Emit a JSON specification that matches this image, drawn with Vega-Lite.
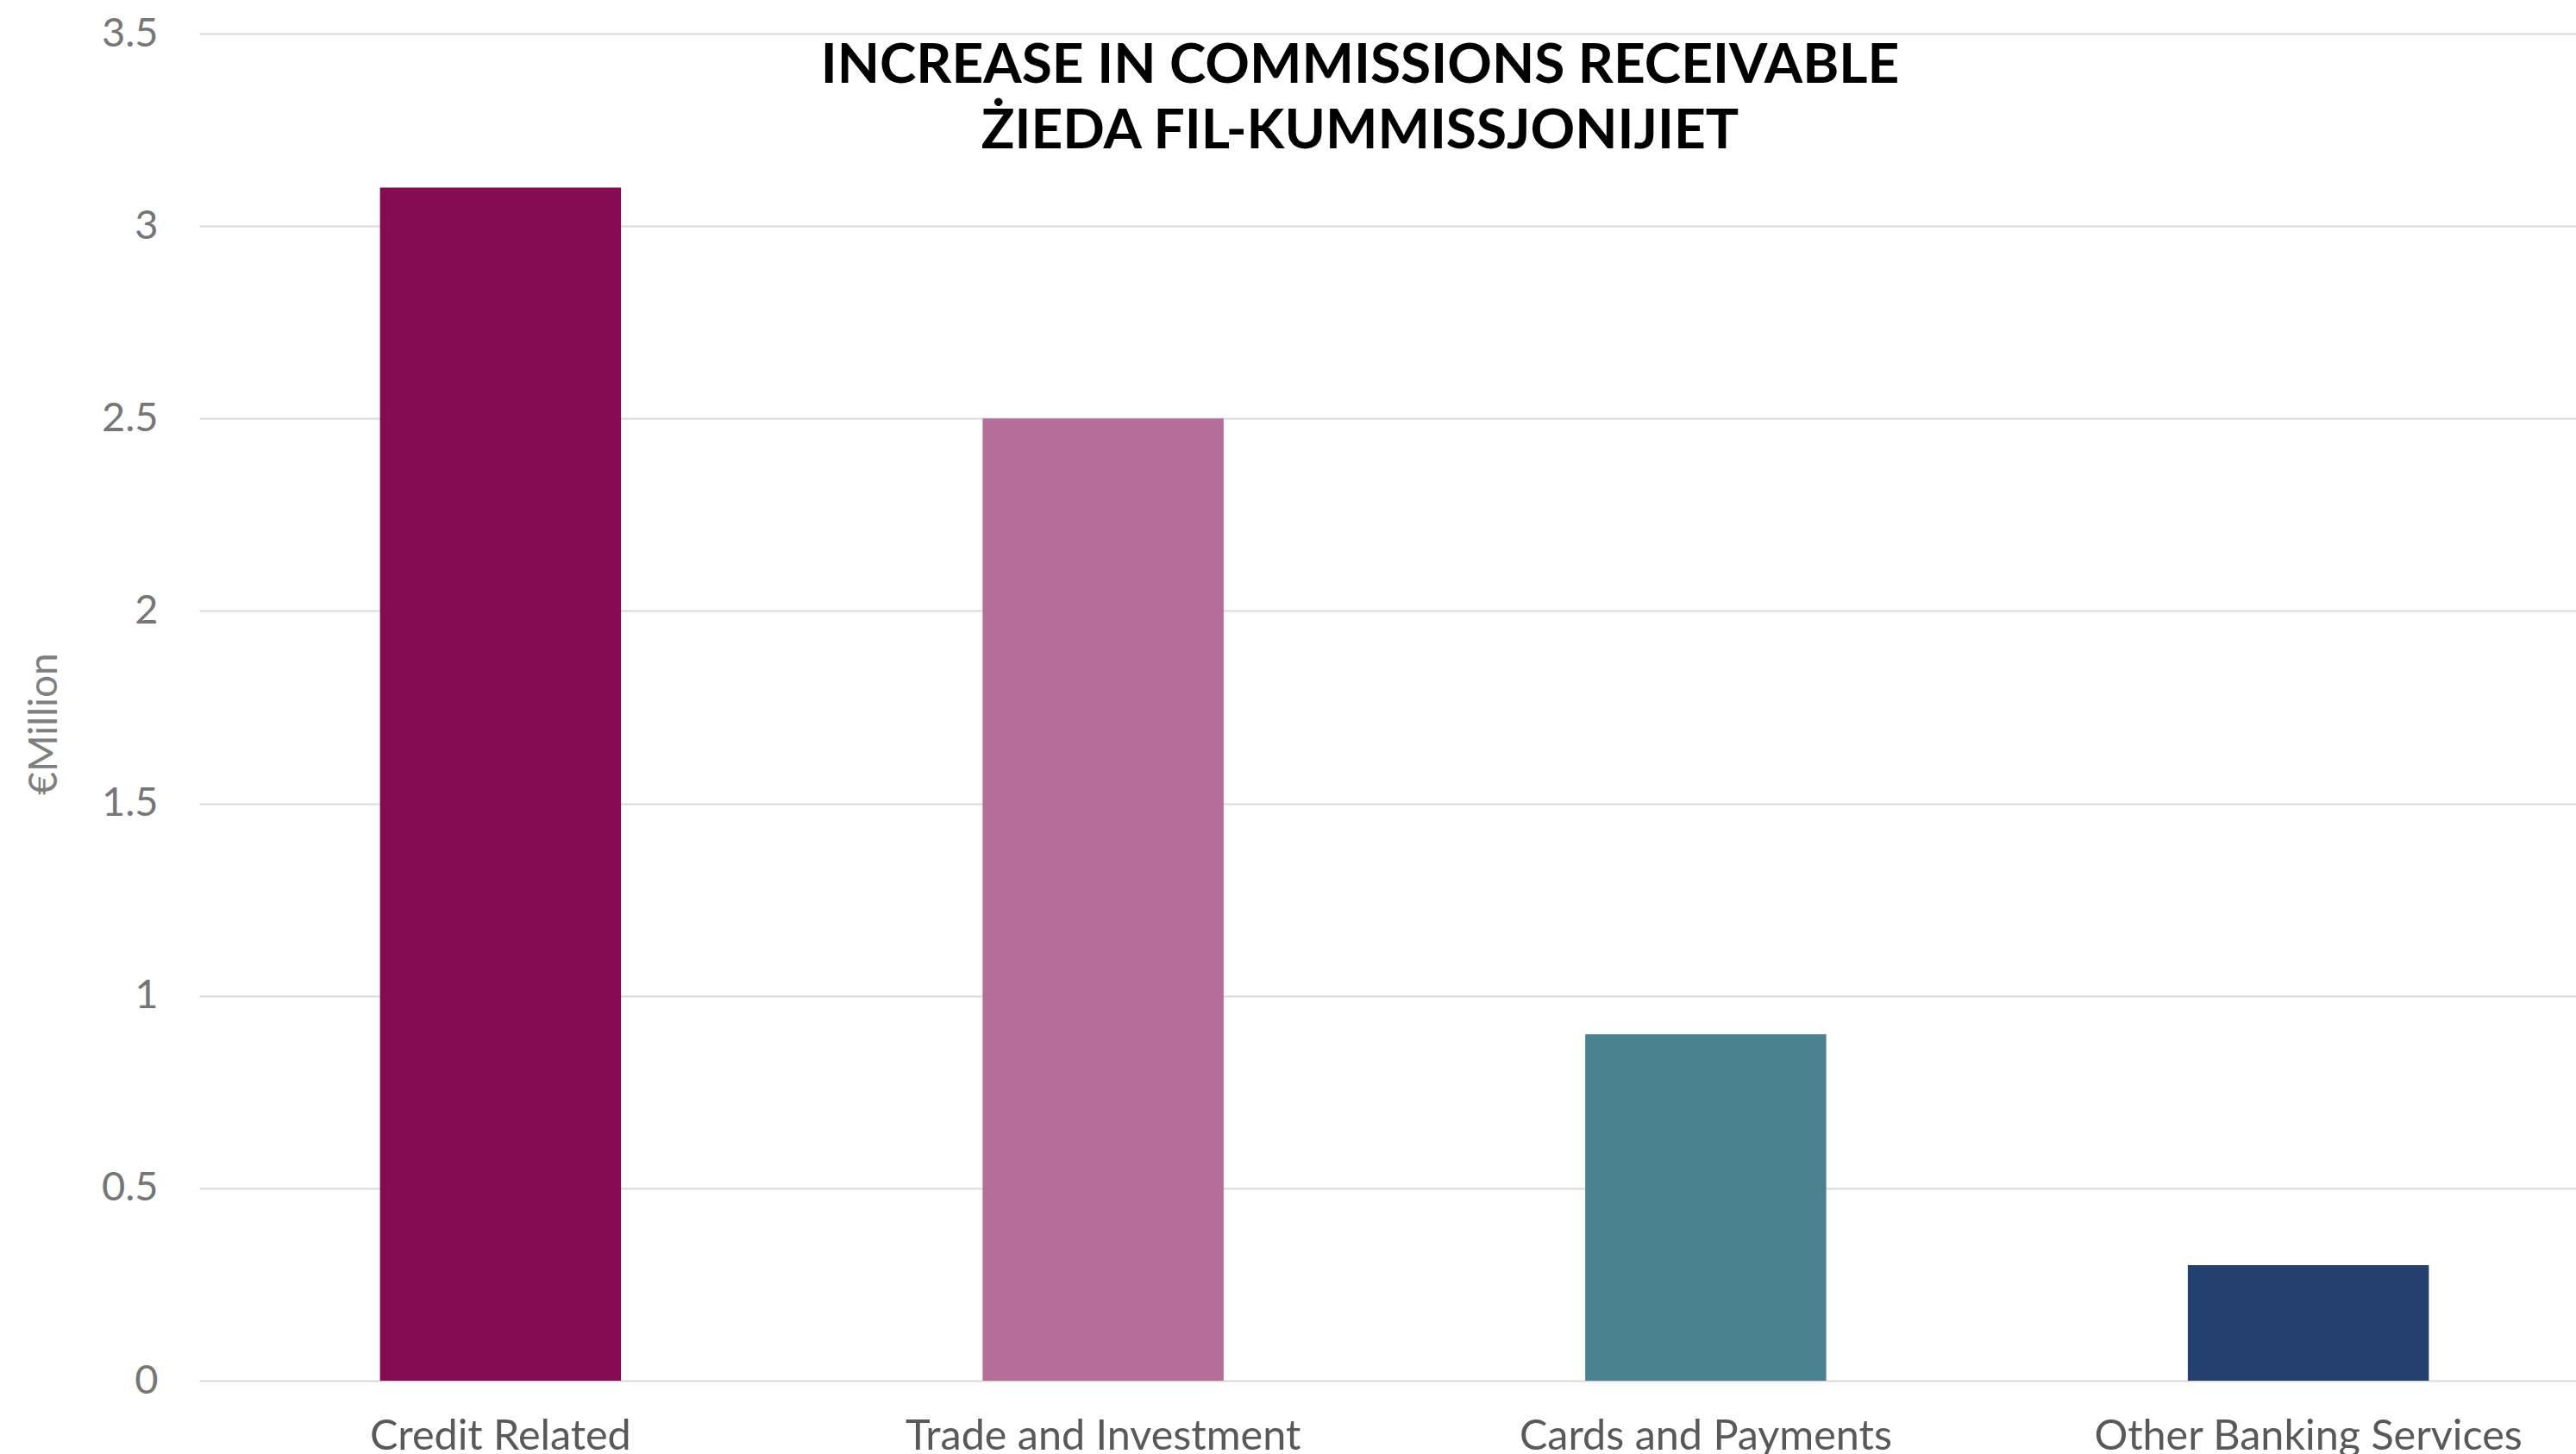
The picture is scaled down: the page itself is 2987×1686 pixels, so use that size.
{
  "$schema": "https://vega.github.io/schema/vega-lite/v6.json",
  "autosize": {"type": "none"},
  "width": 2756,
  "height": 1562,
  "padding": {"left": 231, "top": 39, "right": 0, "bottom": 86},
  "background": "white",
  "config": {
    "font": "Lato",
    "view": {"stroke": null}
  },
  "title": {
    "text": ["INCREASE IN COMMISSIONS RECEIVABLE", "ŻIEDA FIL-KUMMISSJONIJIET"],
    "anchor": "middle",
    "frame": "group",
    "font": "Lato",
    "fontSize": 64,
    "fontWeight": "bold",
    "color": "#000000",
    "lineHeight": 76,
    "baseline": "top",
    "dx": -32,
    "offset": -170
  },
  "data": {
    "values": [
      {"category": "Credit Related", "value": 3.1},
      {"category": "Trade and Investment", "value": 2.5},
      {"category": "Cards and Payments", "value": 0.9},
      {"category": "Other Banking Services", "value": 0.3}
    ]
  },
  "mark": {"type": "bar"},
  "encoding": {
    "x": {
      "field": "category",
      "type": "nominal",
      "sort": null,
      "scale": {"range": [0, 2795], "paddingInner": 0.6, "paddingOuter": 0.3},
      "axis": {
        "title": null,
        "labelAngle": 0,
        "labelFont": "Lato",
        "labelFontSize": 48.5,
        "labelColor": "#595959",
        "labelPadding": 41,
        "labelLimit": 0,
        "ticks": false,
        "domain": false,
        "grid": false,
        "labelBaseline": "top"
      }
    },
    "y": {
      "field": "value",
      "type": "quantitative",
      "scale": {"domain": [0, 3.5], "nice": false},
      "axis": {
        "title": "€Million",
        "titleFont": "Lato",
        "titleFontSize": 46,
        "titleFontWeight": "normal",
        "titleColor": "#7f7f7f",
        "titlePadding": 42,
        "titleY": 800,
        "values": [0, 0.5, 1, 1.5, 2, 2.5, 3, 3.5],
        "format": "~g",
        "labelFont": "Lato",
        "labelFontSize": 47,
        "labelColor": "#767676",
        "labelPadding": 48,
        "ticks": false,
        "domain": false,
        "grid": true,
        "gridColor": "#d9d9d9",
        "gridWidth": 2
      }
    },
    "color": {
      "field": "category",
      "type": "nominal",
      "sort": null,
      "scale": {
        "domain": ["Credit Related", "Trade and Investment", "Cards and Payments", "Other Banking Services"],
        "range": ["#850C53", "#B46E98", "#4A8291", "#24406E"]
      },
      "legend": null
    }
  }
}
